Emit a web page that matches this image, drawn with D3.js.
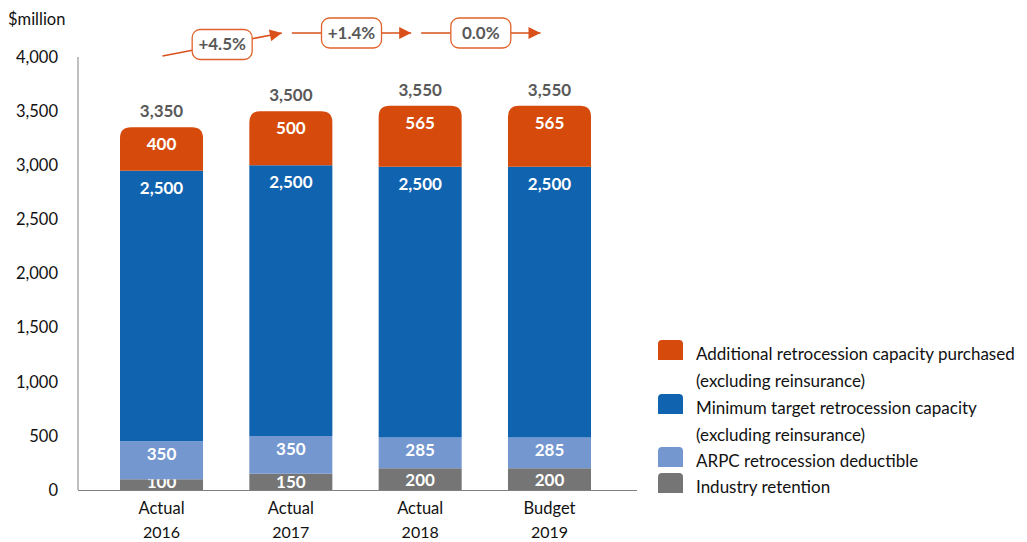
<!DOCTYPE html>
<html lang="en">
<head>
<meta charset="UTF-8">
<title>Retrocession capacity</title>
<script src="https://d3js.org/d3.v7.min.js"></script>
<style>
    body { margin: 0; background: #fff; }
    text { font-family: Lato, "Open Sans", sans-serif; }
</style>
</head>
<body>
<svg width="1027" height="542"></svg>
<script>
    // data
    var years = ["2016", "2017", "2018", "2019"];
    var kinds = ["Actual", "Actual", "Actual", "Budget"];
    var industry = [100, 150, 200, 200];
    var deductible = [350, 350, 285, 285];
    var minimum = [2500, 2500, 2500, 2500];
    var additional = [400, 500, 565, 565];
    var totals = [3350, 3500, 3550, 3550];
    var changes = ["+4.5%", "+1.4%", "0.0%"];
    var yTicks = [0, 500, 1000, 1500, 2000, 2500, 3000, 3500, 4000];

    var seriesNames = [
        ["Additional retrocession capacity purchased", "(excluding reinsurance)"],
        ["Minimum target retrocession capacity", "(excluding reinsurance)"],
        ["ARPC retrocession deductible"],
        ["Industry retention"]
    ];
    var colors = ["#d64b0c", "#0f63af", "#7597cf", "#757575"];

    var svg = d3.select("svg");

    var x = d3.scaleBand().domain(years).range([120, 591]).paddingInner(0.358).paddingOuter(0);
    var y = d3.scaleLinear().domain([0, 4000]).range([490, 57]);

    // stacks (bottom to top)
    var rows = years.map(function(yr, i) {
        return { year: yr, industry: industry[i], deductible: deductible[i], minimum: minimum[i], additional: additional[i] };
    });
    var keys = ["industry", "deductible", "minimum", "additional"];
    var keyColor = { industry: colors[3], deductible: colors[2], minimum: colors[1], additional: colors[0] };
    var labelOffset = { industry: 12, deductible: 13, minimum: 17, additional: 17 };
    var stack = d3.stack().keys(keys)(rows);

    // axis line
    svg.append("line").attr("x1", 78).attr("x2", 78).attr("y1", y(4000)).attr("y2", y(0))
        .attr("stroke", "#808080").attr("stroke-width", 1);

    svg.append("g").selectAll("text").data(yTicks).enter().append("text")
        .attr("x", 58).attr("y", function(d) { return y(d); })
        .attr("dy", "0.35em").attr("text-anchor", "end")
        .attr("font-size", 16.5).attr("fill", "#111")
        .text(function(d) { return d3.format(",")(d); });

    svg.append("text").attr("x", 8).attr("y", 25).attr("font-size", 16.5).attr("fill", "#111").text("$million");

    function topRounded(x0, y0, w, h, r) {
        return "M" + x0 + "," + (y0 + h) + "V" + (y0 + r) + "Q" + x0 + "," + y0 + " " + (x0 + r) + "," + y0 +
            "H" + (x0 + w - r) + "Q" + (x0 + w) + "," + y0 + " " + (x0 + w) + "," + (y0 + r) + "V" + (y0 + h) + "Z";
    }

    stack.forEach(function(layer) {
        var g = svg.append("g");
        var isTop = layer.key === "additional";
        g.selectAll("path").data(layer).enter().append("path")
            .attr("fill", keyColor[layer.key])
            .attr("d", function(d) {
                var x0 = x(d.data.year), w = x.bandwidth();
                var y0 = y(d[1]), h = y(d[0]) - y(d[1]);
                return topRounded(x0, y0, w, h, isTop ? 11 : 0);
            });
        g.selectAll("text").data(layer).enter().append("text")
            .attr("x", function(d) { return x(d.data.year) + x.bandwidth() / 2; })
            .attr("y", function(d) { return Math.min(y(d[1]) + labelOffset[layer.key], y(d[0]) - 8); })
            .attr("dy", "0.35em").attr("text-anchor", "middle")
            .attr("font-size", 17).attr("font-weight", "bold").attr("fill", "#fff")
            .text(function(d) { return d3.format(",")(d[1] - d[0]); });
    });

    // baseline
    svg.append("line").attr("x1", 78).attr("x2", 637).attr("y1", y(0) + 0.5).attr("y2", y(0) + 0.5)
        .attr("stroke", "#808080").attr("stroke-width", 1);

    // totals
    svg.append("g").selectAll("text").data(totals).enter().append("text")
        .attr("x", function(d, i) { return x(years[i]) + x.bandwidth() / 2; })
        .attr("y", function(d) { return y(d) - 16; })
        .attr("dy", "0.35em").attr("text-anchor", "middle")
        .attr("font-size", 17).attr("font-weight", "bold").attr("fill", "#595959")
        .text(function(d) { return d3.format(",")(d); });

    // x labels
    var xl = svg.append("g").selectAll("g").data(years).enter().append("g")
        .attr("transform", function(d) { return "translate(" + (x(d) + x.bandwidth() / 2) + ",0)"; });
    xl.append("text").attr("y", 508).attr("dy", "0.35em").attr("text-anchor", "middle")
        .attr("font-size", 16.5).attr("fill", "#111").text(function(d, i) { return kinds[i]; });
    xl.append("text").attr("y", 532).attr("dy", "0.35em").attr("text-anchor", "middle")
        .attr("font-size", 16).attr("fill", "#111").text(function(d) { return d; });

    // growth arrows
    var orange = "#e0622a";
    svg.append("defs").append("marker")
        .attr("id", "arrowhead").attr("viewBox", "0 -5 10 10")
        .attr("refX", 10).attr("refY", 0).attr("orient", "auto")
        .attr("markerUnits", "userSpaceOnUse")
        .attr("markerWidth", 13).attr("markerHeight", 12)
        .append("path").attr("d", "M0,-5L10,0L0,5Z").attr("fill", "#d9501a");

    var arrows = changes.map(function(c, i) {
        var cx0 = x(years[i]) + x.bandwidth() / 2, cx1 = x(years[i + 1]) + x.bandwidth() / 2;
        return { label: c, x1: cx0 + 1, y1: i === 0 ? 56 : 33, x2: cx1 - 9, y2: 33 };
    });
    var ag = svg.append("g").selectAll("g").data(arrows).enter().append("g");
    ag.append("line")
        .attr("x1", function(d) { return d.x1; }).attr("y1", function(d) { return d.y1; })
        .attr("x2", function(d) { return d.x2; }).attr("y2", function(d) { return d.y2; })
        .attr("stroke", "#d9501a").attr("stroke-width", 1.5)
        .attr("marker-end", "url(#arrowhead)");
    ag.append("rect")
        .attr("x", function(d) { return (d.x1 + d.x2) / 2 - 30; })
        .attr("y", function(d) { return (d.y1 + d.y2) / 2 - 15; })
        .attr("width", 60).attr("height", 30).attr("rx", 8)
        .attr("fill", "#fff").attr("stroke", orange).attr("stroke-width", 1.3);
    ag.append("text")
        .attr("x", function(d) { return (d.x1 + d.x2) / 2; })
        .attr("y", function(d) { return (d.y1 + d.y2) / 2; })
        .attr("dy", "0.35em").attr("text-anchor", "middle")
        .attr("font-size", 17).attr("font-weight", "bold").attr("fill", "#595959")
        .text(function(d) { return d.label; });

    // legend
    var legendY = [340, 394, 447, 473];
    var lg = svg.append("g").selectAll("g").data(seriesNames).enter().append("g")
        .attr("transform", function(d, i) { return "translate(658," + legendY[i] + ")"; });
    lg.append("path").attr("fill", function(d, i) { return colors[i]; })
        .attr("d", function() { return topRounded(0, 0, 25, 20, 4); });
    lg.each(function(d) {
        var g = d3.select(this);
        d.forEach(function(line, j) {
            g.append("text").attr("x", 38).attr("y", 14 + j * 27).attr("dy", "0.35em")
                .attr("font-size", 17).attr("fill", "#111").text(line);
        });
    });
</script>
</body>
</html>
